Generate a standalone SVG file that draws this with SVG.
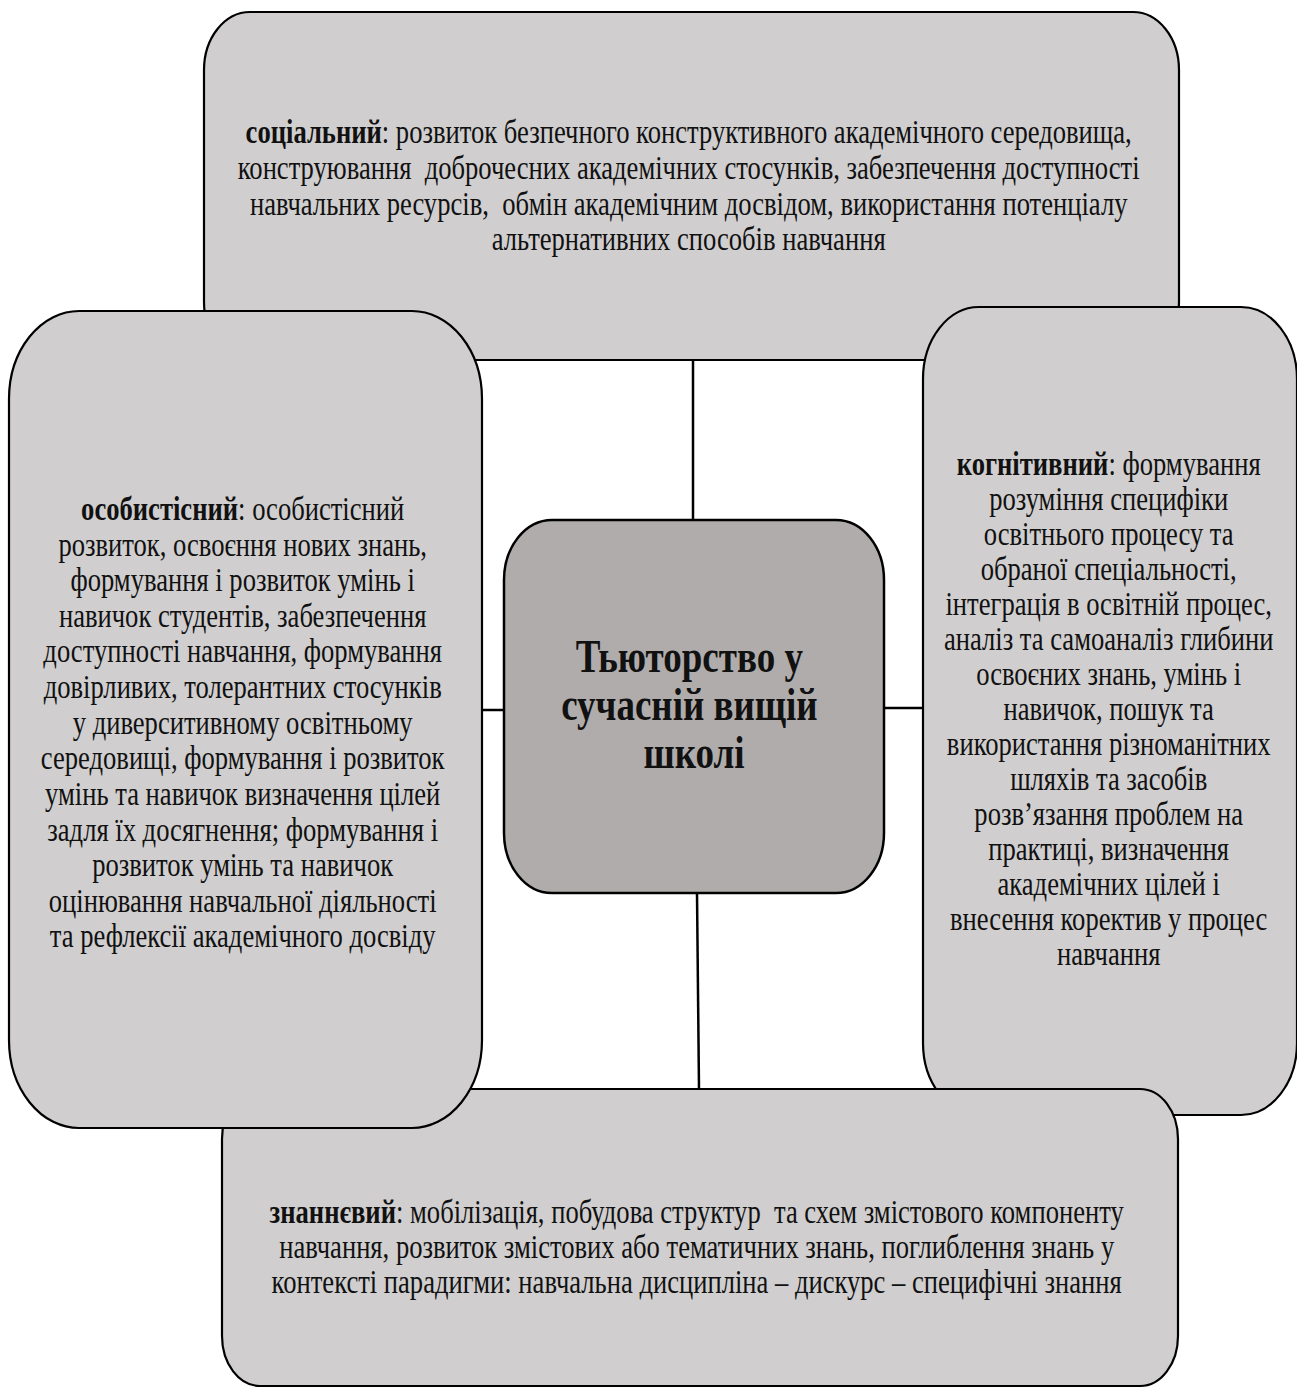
<svg xmlns="http://www.w3.org/2000/svg" width="1297" height="1390" viewBox="0 0 1297 1390">
<style>
.box{fill:#d0cecf;stroke:#000;stroke-width:2.2}
.core{fill:#b0acab;stroke:#000;stroke-width:2.5}
.con{stroke:#000;stroke-width:2.5;fill:none}
.t{font-family:"Liberation Serif","Times New Roman",serif;font-size:26.6px;fill:#111;text-anchor:middle;white-space:pre}
.ct{font-family:"Liberation Serif","Times New Roman",serif;font-size:37px;font-weight:bold;fill:#111;text-anchor:middle}
.b{font-weight:bold}
</style>
<rect width="1297" height="1390" fill="#fff"/>
<g id="connectors">
<line class="con" x1="693" y1="360" x2="693" y2="520"/>
<line class="con" x1="697" y1="893" x2="699" y2="1089"/>
<line class="con" x1="482" y1="710" x2="504" y2="710"/>
<line class="con" x1="884" y1="708" x2="923" y2="708"/>
</g>
<g id="social">
<rect class="box" x="204" y="12" width="975" height="348" rx="46" ry="58"/>
<text class="t" transform="translate(692,0) scale(1,1.25)">
<tspan x="0" y="114.4"><tspan class="b">соціальний</tspan>: розвиток безпечного конструктивного академічного середовища,</tspan>
<tspan x="0" y="143.2">конструювання  доброчесних академічних стосунків, забезпечення доступності</tspan>
<tspan x="0" y="172">навчальних ресурсів,  обмін академічним досвідом, використання потенціалу</tspan>
<tspan x="0" y="200.4">альтернативних способів навчання</tspan>
</text>
</g>
<g id="cognitive">
<rect class="box" x="923" y="307" width="374" height="808" rx="56" ry="72"/>
<text class="t" transform="translate(1112,0) scale(1,1.25)">
<tspan x="0" y="380"><tspan class="b">когнітивний</tspan>: формування</tspan>
<tspan x="0" y="408">розуміння специфіки</tspan>
<tspan x="0" y="436">освітнього процесу та</tspan>
<tspan x="0" y="464">обраної спеціальності,</tspan>
<tspan x="0" y="492">інтеграція в освітній процес,</tspan>
<tspan x="0" y="520">аналіз та самоаналіз глибини</tspan>
<tspan x="0" y="548">освоєних знань, умінь і</tspan>
<tspan x="0" y="576">навичок, пошук та</tspan>
<tspan x="0" y="604">використання різноманітних</tspan>
<tspan x="0" y="632">шляхів та засобів</tspan>
<tspan x="0" y="660">розв’язання проблем на</tspan>
<tspan x="0" y="688">практиці, визначення</tspan>
<tspan x="0" y="716">академічних цілей і</tspan>
<tspan x="0" y="744">внесення коректив у процес</tspan>
<tspan x="0" y="772">навчання</tspan>
</text>
</g>
<g id="knowledge">
<rect class="box" x="222" y="1089" width="956" height="297" rx="38" ry="50"/>
<text class="t" transform="translate(700,0) scale(1,1.25)">
<tspan x="0" y="978.4"><tspan class="b">знаннєвий</tspan>: мобілізація, побудова структур  та схем змістового компоненту</tspan>
<tspan x="0" y="1006.4">навчання, розвиток змістових або тематичних знань, поглиблення знань у</tspan>
<tspan x="0" y="1034.4">контексті парадигми: навчальна дисципліна – дискурс – специфічні знання</tspan>
</text>
</g>
<g id="personal">
<rect class="box" x="9" y="311" width="473" height="817" rx="70" ry="88"/>
<text class="t" transform="translate(246,0) scale(1,1.25)">
<tspan x="0" y="416"><tspan class="b">особистісний</tspan>: особистісний</tspan>
<tspan x="0" y="444.5">розвиток, освоєння нових знань,</tspan>
<tspan x="0" y="473">формування і розвиток умінь і</tspan>
<tspan x="0" y="501.5">навичок студентів, забезпечення</tspan>
<tspan x="0" y="530">доступності навчання, формування</tspan>
<tspan x="0" y="558.5">довірливих, толерантних стосунків</tspan>
<tspan x="0" y="587">у диверситивному освітньому</tspan>
<tspan x="0" y="615.5">середовищі, формування і розвиток</tspan>
<tspan x="0" y="644">умінь та навичок визначення цілей</tspan>
<tspan x="0" y="672.5">задля їх досягнення; формування і</tspan>
<tspan x="0" y="701">розвиток умінь та навичок</tspan>
<tspan x="0" y="729.5">оцінювання навчальної діяльності</tspan>
<tspan x="0" y="758">та рефлексії академічного досвіду</tspan>
</text>
</g>
<g id="center">
<rect class="core" x="504" y="520" width="380" height="373" rx="48" ry="60"/>
<text class="ct" transform="translate(694,0) scale(1,1.25)">
<tspan x="0" y="537.6">Тьюторство у</tspan>
<tspan x="0" y="576">сучасній вищій</tspan>
<tspan x="0" y="614.4">школі</tspan>
</text>
</g>
</svg>
